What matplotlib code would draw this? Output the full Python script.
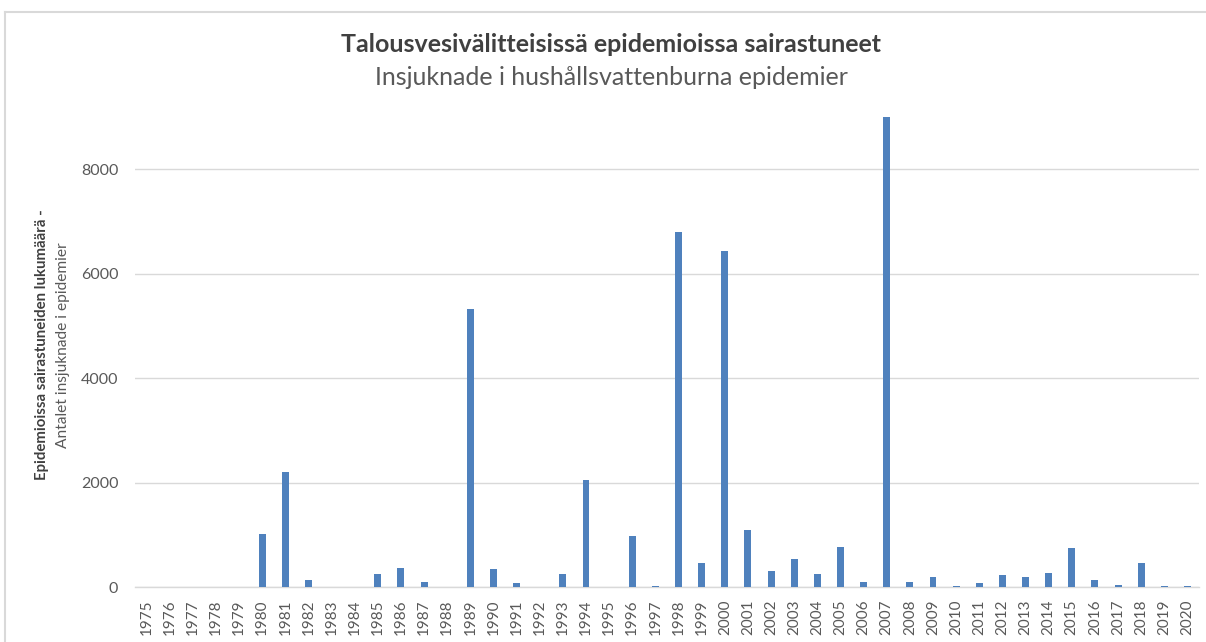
import matplotlib
matplotlib.use("Agg")
import matplotlib.pyplot as plt
from matplotlib.lines import Line2D

# data
years = list(range(1975, 2021))
cases = [0, 0, 0, 0, 0,
         1020, 2200, 140, 0, 0, 260, 375, 100, 0, 5330,
         350, 80, 0, 260, 2050, 0, 985, 35, 6800, 460,
         6440, 1090, 320, 550, 260, 780, 100, 9000, 100, 210,
         30, 80, 230, 210, 280, 755, 140, 50, 465, 30,
         30]
yticks = [0, 2000, 4000, 6000, 8000]

title = "Talousvesivälitteisissä epidemioissa sairastuneet"
subtitle = "Insjuknade i hushållsvattenburna epidemier"
ylab1 = "Epidemioissa sairastuneiden lukumäärä -"
ylab2 = "Antalet insjuknade i epidemier"

plt.rcParams['font.family'] = ['Lato', 'DejaVu Sans']

fig = plt.figure(figsize=(12.06, 6.42), dpi=100)
ax = fig.add_axes([0.1119, 0.0849, 0.8823, 0.7333])

x = list(range(len(years)))
ax.bar(x, cases, width=0.3, color='#4F81BD', zorder=3)

ax.set_xlim(-0.5, len(years) - 0.5)
ax.set_ylim(0, 9000)
ax.set_yticks(yticks)
ax.set_yticklabels([str(v) for v in yticks])
ax.set_xticks(x)
ax.set_xticklabels([str(y) for y in years], rotation=90)

ax.grid(axis='y', color='#D9D9D9', linewidth=1.0, zorder=0)
for s in ['top', 'right', 'left']:
    ax.spines[s].set_visible(False)
ax.spines['bottom'].set_color('#D9D9D9')
ax.spines['bottom'].set_linewidth(1.0)
ax.tick_params(axis='y', length=0, pad=12, labelsize=11.5, labelcolor='#595959')
ax.tick_params(axis='x', length=0, pad=9, labelsize=11, labelcolor='#595959')

fig.text(0.5066, 0.93, title, ha='center', va='center', fontsize=18,
         fontweight='bold', color='#404040')
fig.text(0.5066, 0.88, subtitle, ha='center', va='center', fontsize=18,
         color='#595959')
fig.text(42 / 1206, 0.4626, ylab1, ha='center', va='center', rotation=90,
         fontsize=10.8, fontweight='bold', color='#404040')
fig.text(63 / 1206, 0.4626, ylab2, ha='center', va='center', rotation=90,
         fontsize=11.2, color='#595959')

# chart border (top and left edges visible)
fig.add_artist(Line2D([5 / 1206, 1.0], [1 - 11.5 / 642, 1 - 11.5 / 642],
                      transform=fig.transFigure, color='#D9D9D9', lw=1.5))
fig.add_artist(Line2D([5 / 1206, 5 / 1206], [0.0, 1 - 11.5 / 642],
                      transform=fig.transFigure, color='#D9D9D9', lw=1.5))

fig.savefig('out.png', dpi=100)
